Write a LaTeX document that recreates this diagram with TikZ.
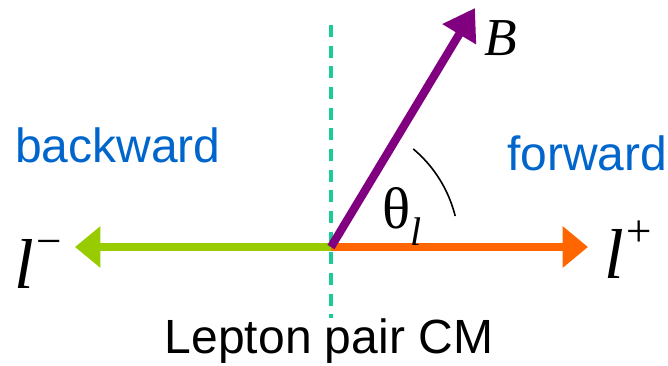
\documentclass[tikz,border=0pt]{standalone}
\usepackage{fontspec}
\setmainfont{Liberation Sans}
\newfontfamily\timesfont{Liberation Serif}
\usetikzlibrary{arrows.meta}
\definecolor{lgreen}{HTML}{99CC00}
\definecolor{lorange}{HTML}{FF6600}
\definecolor{bpurple}{HTML}{800080}
\definecolor{cmteal}{HTML}{1BCC99}
\definecolor{dirblue}{HTML}{0066CC}
\begin{document}
\begin{tikzpicture}[x=0.75pt,y=0.75pt,
    lepline/.style={line width=5.4pt, -{Triangle[length=19pt,width=30pt]}},
    txt/.style={inner sep=0pt, anchor=base west, font=\fontsize{36}{40}\selectfont},
    lep/.style={inner sep=0pt, anchor=base west, font=\fontsize{53}{56}\selectfont\timesfont}]
    \useasboundingbox (-331,-118) rectangle (337,247);
    \coordinate (O) at (0,0);
    \coordinate (lm) at (-256,0);
    \coordinate (lp) at (257,0);
    \coordinate (b) at (144,239);
    \coordinate (cmtop) at (0,222);
    \coordinate (cmbot) at (0,-71);
    % CM axis, then the two leptons and B
    \draw[cmteal, line width=2.8pt, dash pattern=on 9pt off 6.5pt] (cmtop) -- (cmbot);
    \draw[lepline, lgreen] (O) -- (lm);
    \draw[lepline, lorange] (O) -- (lp);
    \draw[bpurple, line width=6.2pt, -{Triangle[length=23pt,width=28pt]}] (O) -- (b);
    \draw[line width=1.2pt] (O) ++(14:128) arc[start angle=14, end angle=50, radius=128];
    \node[lep] (lmlabel) at (-317,-41) {\itshape l\raisebox{0.45em}{\fontsize{34}{34}\selectfont −}};
    \node[lep] (lplabel) at (273,-31) {\itshape l\raisebox{0.45em}{\fontsize{34}{34}\selectfont +}};
    \node[lep, font=\fontsize{40}{44}\selectfont\timesfont\itshape] (blabel) at (153,192) {B};
    \node[lep, font=\fontsize{44}{48}\selectfont\timesfont] (theta) at (51,19) {θ\raisebox{-0.3em}{\fontsize{30}{30}\selectfont\itshape l}};
    \node[txt, text=dirblue] (bwd) at (-316,85) {backward};
    \node[txt, text=dirblue] (fwd) at (176,77) {forward};
    \node[txt, anchor=base] (cm) at (-2,-106) {Lepton pair CM};
\end{tikzpicture}
\end{document}
